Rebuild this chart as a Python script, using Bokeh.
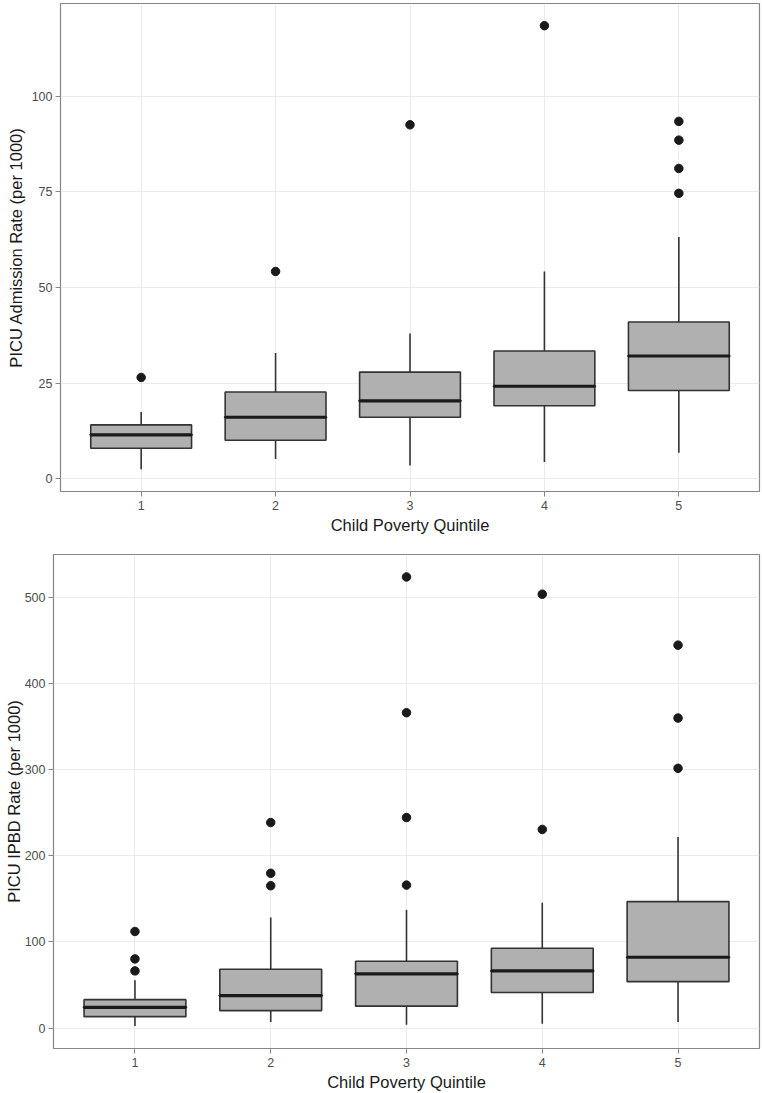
from bokeh.plotting import figure
from bokeh.models import ColumnDataSource, Range1d, FixedTicker
from bokeh.embed import file_html
from bokeh.resources import INLINE

# ---------------- data ----------------
quintiles = [1, 2, 3, 4, 5]
x_tick_labels = {1: "1", 2: "2", 3: "3", 4: "4", 5: "5"}

# PICU Admission Rate (per 1000)
adm_low = [2.5, 5.2, 3.5, 4.4, 6.8]
adm_q1 = [8.0, 10.1, 16.1, 19.1, 23.1]
adm_med = [11.5, 16.1, 20.4, 24.2, 32.1]
adm_q3 = [14.1, 22.7, 27.9, 33.4, 41.0]
adm_high = [17.5, 32.9, 38.0, 54.2, 63.2]
adm_out = [[26.5], [54.2], [92.5], [118.4], [74.6, 81.1, 88.5, 93.4]]
adm_ticks = [0, 25, 50, 75, 100]

# PICU IPBD Rate (per 1000)
ipbd_low = [2.3, 7.0, 3.8, 5.0, 7.1]
ipbd_q1 = [13.2, 20.2, 25.4, 41.3, 53.8]
ipbd_med = [24.0, 37.6, 62.9, 66.3, 82.1]
ipbd_q3 = [32.9, 68.2, 77.5, 92.5, 146.7]
ipbd_high = [55.4, 128.3, 137.1, 145.4, 221.7]
ipbd_out = [[66.3, 80.2, 112.0], [165.1, 179.5, 238.4],
            [165.8, 244.2, 365.8, 523.3], [230.4, 503.3],
            [301.3, 359.6, 444.2]]
ipbd_ticks = [0, 100, 200, 300, 400, 500]

FONT = "Liberation Sans"
BOX_FILL = "#b0b0b0"
EDGE = "#333333"


def make_panel(low, q1, med, q3, high, outs, ticks, ylabel,
               width, height, b_left, b_top, b_bottom, ylab_standoff):
    all_vals = low + high + [v for o in outs for v in o]
    lo, hi = min(all_vals), max(all_vals)
    pad = (hi - lo) * 0.05
    p = figure(width=width, height=height, output_backend="svg",
               toolbar_location=None,
               x_range=Range1d(0.4, 5.6), y_range=Range1d(lo - pad, hi + pad),
               min_border_left=b_left, min_border_right=3,
               min_border_top=b_top, min_border_bottom=b_bottom)
    p.background_fill_color = "white"
    p.border_fill_color = "white"
    p.outline_line_color = "#858585"
    p.outline_line_width = 1.2

    src = ColumnDataSource(dict(x=quintiles, low=low, q1=q1, med=med,
                                q3=q3, high=high))
    # whiskers
    p.segment(x0="x", y0="q3", x1="x", y1="high", source=src,
              line_color=EDGE, line_width=1.6)
    p.segment(x0="x", y0="low", x1="x", y1="q1", source=src,
              line_color=EDGE, line_width=1.6)
    # boxes
    p.vbar(x="x", bottom="q1", top="q3", width=0.75, source=src,
           fill_color=BOX_FILL, line_color=EDGE, line_width=1.6)
    # medians
    p.rect(x="x", y="med", width=0.75, height=0.0001, source=src,
           fill_alpha=0, line_color="#1a1a1a", line_width=3.2)
    # outliers
    ox = [quintiles[i] for i, o in enumerate(outs) for _ in o]
    oy = [v for o in outs for v in o]
    p.scatter(x=ox, y=oy, size=8.5, marker="circle",
              fill_color="#1a1a1a", line_color="#1a1a1a")

    p.xaxis.ticker = FixedTicker(ticks=quintiles)
    p.xaxis.major_label_overrides = x_tick_labels
    p.yaxis.ticker = FixedTicker(ticks=ticks)
    p.xaxis.axis_label = "Child Poverty Quintile"
    p.yaxis.axis_label = ylabel
    for ax in (p.xaxis, p.yaxis):
        ax.axis_line_color = None
        ax.major_tick_line_color = "#858585"
        ax.major_tick_out = 5
        ax.major_tick_in = 0
        ax.minor_tick_line_color = None
        ax.major_label_text_font = FONT
        ax.major_label_text_font_size = "12.5px"
        ax.major_label_text_color = "#4d4d4d"
        ax.axis_label_text_font = FONT
        ax.axis_label_text_font_size = "16.5px"
        ax.axis_label_text_font_style = "normal"
        ax.axis_label_text_color = "#1a1a1a"
    p.xaxis.major_label_standoff = 4
    p.yaxis.major_label_standoff = 3
    p.xaxis.axis_label_standoff = 3
    p.yaxis.axis_label_standoff = ylab_standoff
    p.xgrid.grid_line_color = "#ebebeb"
    p.ygrid.grid_line_color = "#ebebeb"
    p.xgrid.grid_line_width = 1
    p.ygrid.grid_line_width = 1
    p.xgrid.ticker = FixedTicker(ticks=quintiles)
    p.ygrid.ticker = FixedTicker(ticks=ticks)
    return p


p1 = make_panel(adm_low, adm_q1, adm_med, adm_q3, adm_high, adm_out,
                adm_ticks, "PICU Admission Rate (per 1000)",
                width=762, height=538, b_left=60, b_top=3, b_bottom=47,
                ylab_standoff=4)
p2 = make_panel(ipbd_low, ipbd_q1, ipbd_med, ipbd_q3, ipbd_high, ipbd_out,
                ipbd_ticks, "PICU IPBD Rate (per 1000)",
                width=762, height=555, b_left=53, b_top=16, b_bottom=45,
                ylab_standoff=-1)

open("out.html", "w").write(file_html([p1, p2], INLINE))
